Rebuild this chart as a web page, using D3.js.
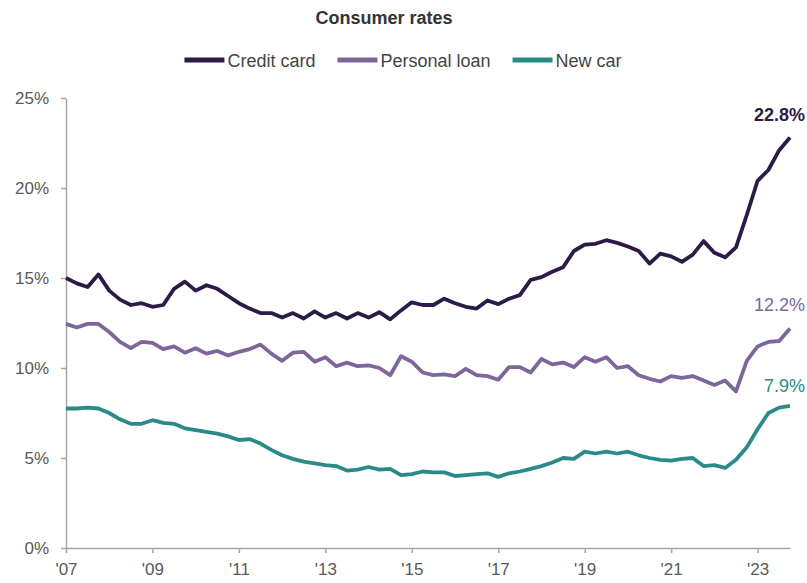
<!DOCTYPE html>
<html><head><meta charset="utf-8">
<script src="https://cdn.jsdelivr.net/npm/d3@7"></script>
<style>
body{margin:0;background:#fff;}
svg text{font-family:"Liberation Sans",Arial,sans-serif;}
</style>
</head><body>
<svg id="chart" width="807" height="583"></svg>
<script>
const titleText = "Consumer rates";
const startYear = 2007;
const stepYears = 0.25; // quarterly observations
const creditCard = [15.0,14.7,14.5,15.2,14.3,13.8,13.5,13.6,13.4,13.5,
  14.4,14.8,14.3,14.6,14.4,14.0,13.6,13.3,13.05,13.05,
  12.8,13.05,12.75,13.15,12.8,13.05,12.75,13.05,12.8,13.1,
  12.7,13.2,13.65,13.5,13.5,13.85,13.6,13.4,13.3,13.75,
  13.55,13.85,14.05,14.9,15.05,15.35,15.6,16.5,16.85,16.9,
  17.1,16.95,16.75,16.5,15.8,16.35,16.2,15.9,16.3,17.05,
  16.4,16.15,16.7,18.5,20.4,21.0,22.1,22.8];
const personalLoan = [12.45,12.25,12.45,12.45,12.0,11.45,11.1,11.45,11.4,11.05,
  11.2,10.85,11.1,10.8,10.95,10.7,10.9,11.05,11.3,10.8,
  10.4,10.85,10.9,10.35,10.6,10.1,10.3,10.1,10.15,10.0,
  9.6,10.65,10.35,9.75,9.6,9.65,9.55,9.95,9.6,9.55,
  9.35,10.05,10.05,9.75,10.5,10.2,10.3,10.05,10.6,10.35,
  10.6,10.0,10.1,9.6,9.4,9.25,9.55,9.45,9.55,9.3,
  9.05,9.3,8.7,10.4,11.2,11.45,11.5,12.2];
const newCar = [7.75,7.75,7.8,7.75,7.5,7.15,6.9,6.9,7.1,6.95,
  6.9,6.65,6.55,6.45,6.35,6.2,6.0,6.05,5.8,5.45,
  5.15,4.95,4.8,4.7,4.6,4.55,4.3,4.35,4.5,4.35,
  4.4,4.05,4.1,4.25,4.2,4.2,4.0,4.05,4.1,4.15,
  3.95,4.15,4.25,4.4,4.55,4.75,5.0,4.95,5.35,5.25,
  5.35,5.25,5.35,5.15,5.0,4.9,4.85,4.95,5.0,4.55,
  4.6,4.45,4.9,5.6,6.6,7.5,7.8,7.9];
const seriesNames = ["Credit card","Personal loan","New car"];
const seriesColors = ["#2c1a47","#7d679a","#2b8a87"];
const endLabels = ["22.8%","12.2%","7.9%"];
const yTicks = [0,5,10,15,20,25];
const xTickYears = [2007,2009,2011,2013,2015,2017,2019,2021,2023];
const xTickLabels = ["'07","'09","'11","'13","'15","'17","'19","'21","'23"];

const svg = d3.select("#chart");
const margin = {left:66, right:17, top:98, bottom:35};
const W = 807, H = 583;

const series = [creditCard, personalLoan, newCar].map((vals,k)=>({
  name: seriesNames[k], color: seriesColors[k], label: endLabels[k],
  points: vals.map((v,i)=>({t: startYear + i*stepYears, v}))
}));
const lastT = startYear + (creditCard.length-1)*stepYears;

const x = d3.scaleLinear().domain([startYear, lastT]).range([margin.left, W - margin.right]);
const y = d3.scaleLinear().domain([0,25]).range([H - margin.bottom, margin.top]);

// Title
svg.append("text").attr("x", 384).attr("y", 24).attr("text-anchor","middle")
  .attr("font-size", 18).attr("font-weight","bold").attr("fill","#333").text(titleText);

// Legend
const legend = svg.append("g");
let lx = 0;
series.forEach((s,k)=>{
  const g = legend.append("g").attr("transform", `translate(${lx},0)`);
  g.append("line").attr("x1",0).attr("x2",40).attr("y1",0).attr("y2",0)
    .attr("stroke", s.color).attr("stroke-width",5);
  const t = g.append("text").attr("x",43).attr("y",6.5).attr("font-size",18)
    .attr("fill","#444").text(s.name);
  lx += 43 + t.node().getComputedTextLength() + 22;
});
const legW = lx - 22;
legend.attr("transform", `translate(${403 - legW/2},60)`);

// Axes
const axisColor = "#a6a6a6";
const yAxis = svg.append("g").attr("transform", `translate(${margin.left},0)`)
  .call(d3.axisLeft(y).tickValues(yTicks).tickFormat(d=>d+"%").tickSize(5).tickSizeOuter(0).tickPadding(12));
const xAxis = svg.append("g").attr("transform", `translate(0,${H - margin.bottom})`)
  .call(d3.axisBottom(x).tickValues(xTickYears).tickFormat((d,i)=>xTickLabels[i]).tickSize(5).tickSizeOuter(0).tickPadding(10));
[yAxis,xAxis].forEach(a=>{
  a.select(".domain").attr("stroke",axisColor).attr("stroke-width",1.5);
  a.selectAll(".tick line").attr("stroke",axisColor).attr("stroke-width",1.5);
  a.selectAll(".tick text").attr("fill","#595959").attr("font-size",17)
    .attr("font-family","'Liberation Sans',Arial,sans-serif");
});

// Lines
const line = d3.line().x(d=>x(d.t)).y(d=>y(d.v));
series.slice().reverse().forEach(s=>{
  svg.append("path").datum(s.points).attr("d", line).attr("fill","none")
    .attr("stroke", s.color).attr("stroke-width",3.8).attr("stroke-linejoin","round");
});

// End labels
const labelOffsets = [-17, -17, -14];
series.forEach((s,k)=>{
  const last = s.points[s.points.length-1];
  svg.append("text").attr("x", 805).attr("y", y(last.v) + labelOffsets[k])
    .attr("text-anchor","end").attr("font-size",18)
    .attr("font-weight", k===0 ? "bold" : "normal")
    .attr("fill", s.color).text(s.label);
});
</script>
</body></html>
